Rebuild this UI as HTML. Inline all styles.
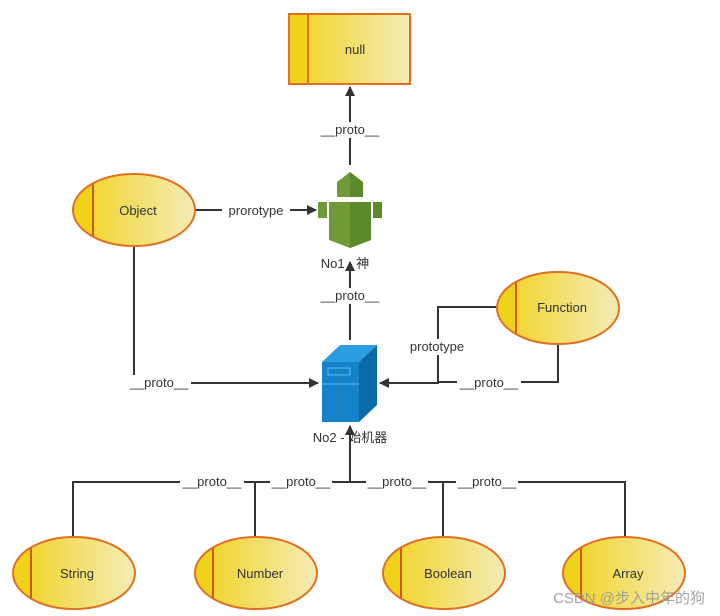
<!DOCTYPE html>
<html><head><meta charset="utf-8"><style>body{margin:0;background:#fff}svg{display:block}</style></head><body>
<svg width="720" height="616" viewBox="0 0 720 616" xmlns="http://www.w3.org/2000/svg" font-family="'Liberation Sans','Noto Sans CJK SC',sans-serif">
<defs>
<linearGradient id="g" x1="0" x2="1" y1="0" y2="0"><stop offset="0" stop-color="#f1d21a"/><stop offset="1" stop-color="#f5ebb8"/></linearGradient>
<marker id="a" markerWidth="10" markerHeight="10" refX="9" refY="5" orient="auto" markerUnits="userSpaceOnUse"><path d="M0,0 L10,5 L0,10 z" fill="#333"/></marker>
</defs>
<g stroke="#333" stroke-width="2" fill="none">
<line x1="350" y1="165" x2="350" y2="87" marker-end="url(#a)"/>
<line x1="350" y1="340" x2="350" y2="262" marker-end="url(#a)"/>
<line x1="196" y1="210" x2="316" y2="210" marker-end="url(#a)"/>
<polyline points="134,246 134,383 318,383" marker-end="url(#a)"/>
<polyline points="497,307 438,307 438,383 380,383" marker-end="url(#a)"/>
<polyline points="558,344 558,382 438,382"/>
<line x1="350" y1="482" x2="350" y2="426" marker-end="url(#a)"/>
<polyline points="73,537 73,482 625,482 625,537"/>
<line x1="255" y1="482" x2="255" y2="537"/>
<line x1="443" y1="482" x2="443" y2="537"/>
</g>
<g font-size="13" fill="#333" text-anchor="middle">
<rect x="318" y="122" width="64" height="16" fill="#fff"/><text x="350" y="134">__proto__</text>
<rect x="318" y="288" width="64" height="16" fill="#fff"/><text x="350" y="300">__proto__</text>
<rect x="222" y="203" width="68" height="16" fill="#fff"/><text x="256" y="215">prorotype</text>
<rect x="127" y="375" width="64" height="16" fill="#fff"/><text x="159" y="387">__proto__</text>
<rect x="402" y="339" width="72" height="16" fill="#fff"/><text x="437" y="351">prototype</text>
<rect x="457" y="375" width="64" height="16" fill="#fff"/><text x="489" y="387">__proto__</text>
<rect x="180" y="474" width="64" height="16" fill="#fff"/><text x="212" y="486">__proto__</text>
<rect x="270" y="474" width="62" height="16" fill="#fff"/><text x="301" y="486">__proto__</text>
<rect x="366" y="474" width="62" height="16" fill="#fff"/><text x="397" y="486">__proto__</text>
<rect x="456" y="474" width="62" height="16" fill="#fff"/><text x="487" y="486">__proto__</text>
<text x="345" y="268">No1 - 神</text>
<text x="350" y="442">No2 - 始机器</text>
</g>
<rect x="289" y="14" width="121" height="70" fill="url(#g)" stroke="#e07020" stroke-width="2"/>
<rect x="289" y="14" width="19" height="70" fill="#f1d21a" stroke="#e07020" stroke-width="2"/>
<text x="355" y="54" font-size="13" fill="#333" text-anchor="middle" font-family="'Liberation Sans',sans-serif">null</text>
<g>
<path d="M337,182 L350,172 L363,182 L363,197 L337,197 z" fill="#6f9a37"/>
<path d="M350,172 L363,182 L363,197 L350,197 z" fill="#5b8a2a"/>
<rect x="318" y="202" width="9" height="16" fill="#6f9a37"/>
<rect x="373" y="202" width="9" height="16" fill="#5b8a2a"/>
<path d="M329,202 L371,202 L371,240 L350,248 L329,240 z" fill="#6f9a37"/>
<path d="M350,202 L371,202 L371,240 L350,248 z" fill="#5b8a2a"/>
</g>
<g>
<path d="M322,362 L340,345 L377,345 L359,362 z" fill="#2a9ee0"/>
<path d="M359,362 L377,345 L377,405 L359,422 z" fill="#0b6ba8"/>
<rect x="322" y="362" width="37" height="60" fill="#1583c9"/>
<rect x="328" y="368" width="22" height="7" fill="none" stroke="#5ab8ee" stroke-width="1"/>
<line x1="322" y1="384" x2="359" y2="384" stroke="#5ab8ee" stroke-width="1"/>
</g>
<g font-size="13" fill="#333" text-anchor="middle">
<clipPath id="c1"><ellipse cx="134" cy="210" rx="61" ry="36"/></clipPath>
<ellipse cx="134" cy="210" rx="61" ry="36" fill="url(#g)"/>
<g clip-path="url(#c1)"><rect x="70" y="170" width="23" height="80" fill="#f1d21a"/><line x1="93" y1="170" x2="93" y2="250" stroke="#c85a1a" stroke-width="2"/></g>
<ellipse cx="134" cy="210" rx="61" ry="36" fill="none" stroke="#e07020" stroke-width="2"/>
<text x="138" y="215">Object</text>

<clipPath id="c2"><ellipse cx="558" cy="308" rx="61" ry="36"/></clipPath>
<ellipse cx="558" cy="308" rx="61" ry="36" fill="url(#g)"/>
<g clip-path="url(#c2)"><rect x="495" y="270" width="21" height="80" fill="#f1d21a"/><line x1="516" y1="270" x2="516" y2="346" stroke="#c85a1a" stroke-width="2"/></g>
<ellipse cx="558" cy="308" rx="61" ry="36" fill="none" stroke="#e07020" stroke-width="2"/>
<text x="562" y="312">Function</text>

<clipPath id="c3"><ellipse cx="74" cy="573" rx="61" ry="36"/></clipPath>
<ellipse cx="74" cy="573" rx="61" ry="36" fill="url(#g)"/>
<g clip-path="url(#c3)"><rect x="10" y="535" width="21" height="80" fill="#f1d21a"/><line x1="31" y1="535" x2="31" y2="611" stroke="#c85a1a" stroke-width="2"/></g>
<ellipse cx="74" cy="573" rx="61" ry="36" fill="none" stroke="#e07020" stroke-width="2"/>
<text x="77" y="578">String</text>

<clipPath id="c4"><ellipse cx="256" cy="573" rx="61" ry="36"/></clipPath>
<ellipse cx="256" cy="573" rx="61" ry="36" fill="url(#g)"/>
<g clip-path="url(#c4)"><rect x="192" y="535" width="21" height="80" fill="#f1d21a"/><line x1="213" y1="535" x2="213" y2="611" stroke="#c85a1a" stroke-width="2"/></g>
<ellipse cx="256" cy="573" rx="61" ry="36" fill="none" stroke="#e07020" stroke-width="2"/>
<text x="260" y="578">Number</text>

<clipPath id="c5"><ellipse cx="444" cy="573" rx="61" ry="36"/></clipPath>
<ellipse cx="444" cy="573" rx="61" ry="36" fill="url(#g)"/>
<g clip-path="url(#c5)"><rect x="380" y="535" width="21" height="80" fill="#f1d21a"/><line x1="401" y1="535" x2="401" y2="611" stroke="#c85a1a" stroke-width="2"/></g>
<ellipse cx="444" cy="573" rx="61" ry="36" fill="none" stroke="#e07020" stroke-width="2"/>
<text x="448" y="578">Boolean</text>

<clipPath id="c6"><ellipse cx="624" cy="573" rx="61" ry="36"/></clipPath>
<ellipse cx="624" cy="573" rx="61" ry="36" fill="url(#g)"/>
<g clip-path="url(#c6)"><rect x="560" y="535" width="21" height="80" fill="#f1d21a"/><line x1="581" y1="535" x2="581" y2="611" stroke="#c85a1a" stroke-width="2"/></g>
<ellipse cx="624" cy="573" rx="61" ry="36" fill="none" stroke="#e07020" stroke-width="2"/>
<text x="628" y="578">Array</text>
</g>
<text x="705" y="603" font-size="15" fill="#9a9a9a" fill-opacity="0.9" text-anchor="end">CSDN @步入中年的狗</text>
</svg>
</body></html>
